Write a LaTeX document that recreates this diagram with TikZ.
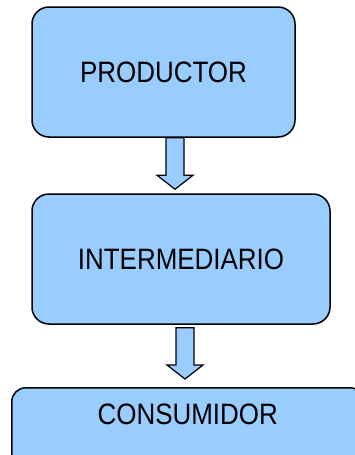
\documentclass[tikz,border=0pt]{standalone}
\usepackage{fontspec}
\setmainfont{Liberation Sans}[FakeStretch=0.88]
\usetikzlibrary{calc}
\definecolor{caja}{HTML}{99CCFF}

\begin{document}
\begin{tikzpicture}[x=1pt,y=-1pt,
    bloque/.style={draw=black,fill=caja,line width=1.5pt,rounded corners=17pt,
      font=\fontsize{29.5}{35}\selectfont},
    flecha/.style={draw=black,fill=caja,line width=1.2pt,line join=miter}]
  \useasboundingbox (0,0) rectangle (355,455);
  \clip (0,0) rectangle (355,455);

  % Cajas
  \node[bloque,minimum width=263pt,minimum height=130pt] (prod) at (163.5,72) {PRODUCTOR};
  \node[bloque,minimum width=298pt,minimum height=130pt] (inter) at (181,259) {INTERMEDIARIO};
  \node[bloque,rounded corners=14pt,anchor=north west,minimum width=352pt,
    inner ysep=0pt,text height=37pt,text depth=60pt] (cons) at (11,387) {CONSUMIDOR};

  % Flecha 1
  \path (175,0 |- prod.south) coordinate (f1a)
        ([yshift=4pt]175,0 |- inter.north) coordinate (f1b);
  \draw[flecha] ([xshift=-9pt]f1a) -- ([xshift=-9pt,yshift=14pt]f1b)
    -- ([xshift=-18pt,yshift=14pt]f1b) -- (f1b) -- ([xshift=18pt,yshift=14pt]f1b)
    -- ([xshift=9pt,yshift=14pt]f1b) -- ([xshift=9pt]f1a) -- cycle;

  % Flecha 2
  \path (185,0 |- inter.south) coordinate (f2a)
        ([yshift=8pt]185,0 |- cons.north) coordinate (f2b);
  \draw[flecha] ([xshift=-9pt,yshift=-3pt]f2a) -- ([xshift=-9pt,yshift=14pt]f2b)
    -- ([xshift=-18pt,yshift=14pt]f2b) -- (f2b) -- ([xshift=18pt,yshift=14pt]f2b)
    -- ([xshift=9pt,yshift=14pt]f2b) -- ([xshift=9pt,yshift=-3pt]f2a) -- cycle;
\end{tikzpicture}
\end{document}
